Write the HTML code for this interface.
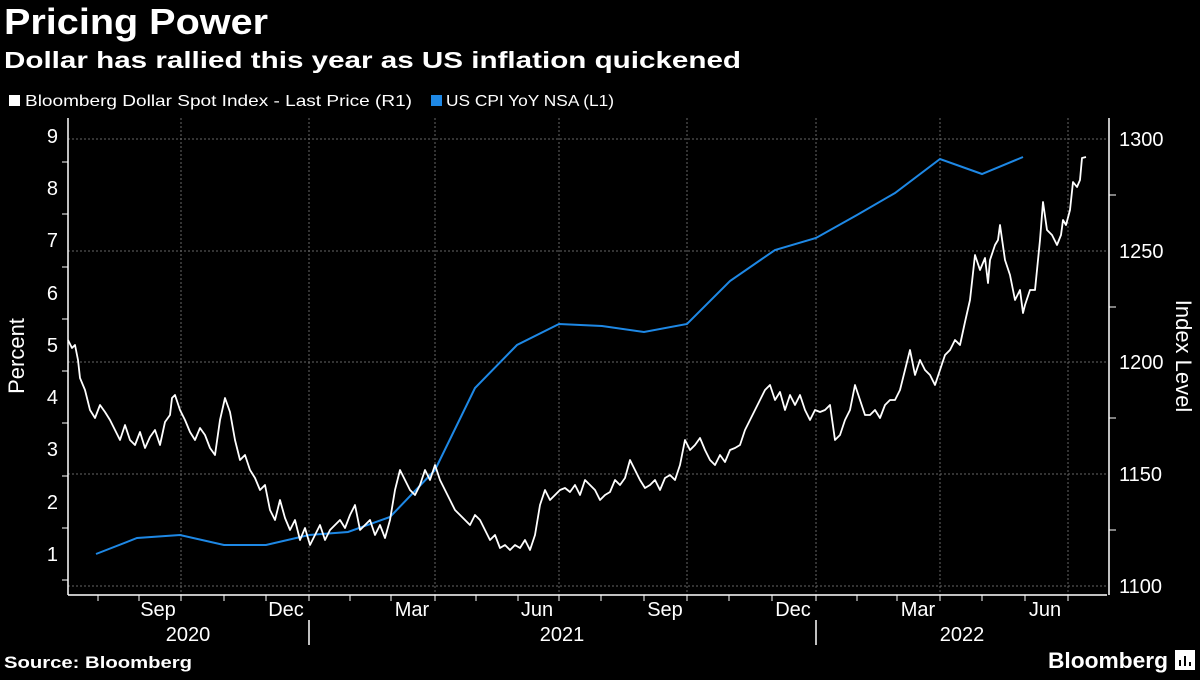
<!DOCTYPE html>
<html><head><meta charset="utf-8"><style>
body{margin:0;background:#000;width:1200px;height:675px;overflow:hidden;font-family:"Liberation Sans",sans-serif}
</style></head><body>
<svg width="1200" height="675" xmlns="http://www.w3.org/2000/svg" font-family="Liberation Sans, DejaVu Sans, sans-serif">
<rect width="1200" height="675" fill="#000"/>
<text x="4" y="34" fill="#fff" font-size="36" font-weight="bold" textLength="264" lengthAdjust="spacingAndGlyphs">Pricing Power</text>
<text x="4" y="68" fill="#fff" font-size="23" font-weight="bold" textLength="737" lengthAdjust="spacingAndGlyphs">Dollar has rallied this year as US inflation quickened</text>
<rect x="9" y="95" width="11" height="11" fill="#fff"/>
<text x="25" y="106" fill="#fff" font-size="16" textLength="387" lengthAdjust="spacingAndGlyphs">Bloomberg Dollar Spot Index - Last Price (R1)</text>
<rect x="431" y="95" width="11" height="11" fill="#1e88e5"/>
<text x="446" y="106" fill="#fff" font-size="16" textLength="168" lengthAdjust="spacingAndGlyphs">US CPI YoY NSA (L1)</text>
<g stroke="#666" stroke-width="1" stroke-dasharray="2,2">
<line x1="68" x2="1107" y1="139" y2="139"/><line x1="68" x2="1107" y1="251" y2="251"/><line x1="68" x2="1107" y1="362" y2="362"/><line x1="68" x2="1107" y1="474" y2="474"/><line x1="68" x2="1107" y1="586" y2="586"/>
<line x1="181" x2="181" y1="118" y2="595"/><line x1="309" x2="309" y1="118" y2="595"/><line x1="435" x2="435" y1="118" y2="595"/><line x1="559" x2="559" y1="118" y2="595"/><line x1="687" x2="687" y1="118" y2="595"/><line x1="816" x2="816" y1="118" y2="595"/><line x1="940" x2="940" y1="118" y2="595"/><line x1="1068" x2="1068" y1="118" y2="595"/>
</g>
<g stroke="#fff" stroke-width="1.5">
<line x1="68" y1="118" x2="68" y2="595"/><line x1="68" y1="595" x2="1107" y2="595"/><line x1="1109" y1="118" x2="1109" y2="595"/>
<line x1="309" y1="620" x2="309" y2="645"/><line x1="816" y1="620" x2="816" y2="645"/>
</g>
<g stroke="#fff" stroke-width="1">
<line x1="98" x2="98" y1="595" y2="601"/><line x1="139" x2="139" y1="595" y2="601"/><line x1="181" x2="181" y1="595" y2="601"/><line x1="224" x2="224" y1="595" y2="601"/><line x1="266" x2="266" y1="595" y2="601"/><line x1="309" x2="309" y1="595" y2="601"/><line x1="350" x2="350" y1="595" y2="601"/><line x1="391" x2="391" y1="595" y2="601"/><line x1="435" x2="435" y1="595" y2="601"/><line x1="476" x2="476" y1="595" y2="601"/><line x1="518" x2="518" y1="595" y2="601"/><line x1="559" x2="559" y1="595" y2="601"/><line x1="601" x2="601" y1="595" y2="601"/><line x1="644" x2="644" y1="595" y2="601"/><line x1="687" x2="687" y1="595" y2="601"/><line x1="729" x2="729" y1="595" y2="601"/><line x1="772" x2="772" y1="595" y2="601"/><line x1="816" x2="816" y1="595" y2="601"/><line x1="857" x2="857" y1="595" y2="601"/><line x1="897" x2="897" y1="595" y2="601"/><line x1="940" x2="940" y1="595" y2="601"/><line x1="982" x2="982" y1="595" y2="601"/><line x1="1025" x2="1025" y1="595" y2="601"/><line x1="1068" x2="1068" y1="595" y2="601"/>
<line x1="62" x2="68" y1="162" y2="162"/><line x1="62" x2="68" y1="214" y2="214"/><line x1="62" x2="68" y1="267" y2="267"/><line x1="62" x2="68" y1="319" y2="319"/><line x1="62" x2="68" y1="371" y2="371"/><line x1="62" x2="68" y1="423" y2="423"/><line x1="62" x2="68" y1="476" y2="476"/><line x1="62" x2="68" y1="528" y2="528"/><line x1="62" x2="68" y1="580" y2="580"/>
<line x1="1109" x2="1116" y1="195" y2="195"/><line x1="1109" x2="1116" y1="307" y2="307"/><line x1="1109" x2="1116" y1="418" y2="418"/><line x1="1109" x2="1116" y1="530" y2="530"/>
</g>
<g fill="#fff" font-size="20" text-anchor="end">
<text x="58" y="143">9</text><text x="58" y="195">8</text><text x="58" y="247">7</text><text x="58" y="300">6</text><text x="58" y="352">5</text><text x="58" y="404">4</text><text x="58" y="456">3</text><text x="58" y="509">2</text><text x="58" y="561">1</text>
</g>
<g fill="#fff" font-size="20">
<text x="1119" y="146">1300</text><text x="1119" y="258">1250</text><text x="1119" y="369">1200</text><text x="1119" y="481">1150</text><text x="1119" y="593">1100</text>
</g>
<g fill="#fff" font-size="20" text-anchor="middle">
<text x="158" y="616">Sep</text><text x="286" y="616">Dec</text><text x="412" y="616">Mar</text><text x="537" y="616">Jun</text><text x="665" y="616">Sep</text><text x="793" y="616">Dec</text><text x="918" y="616">Mar</text><text x="1045" y="616">Jun</text>
<text x="188" y="641">2020</text><text x="562" y="641">2021</text><text x="962" y="641">2022</text>
</g>
<text transform="translate(24,356) rotate(-90)" fill="#fff" font-size="22" text-anchor="middle">Percent</text>
<text transform="translate(1176,356) rotate(90)" fill="#fff" font-size="22" text-anchor="middle">Index Level</text>
<polyline fill="none" stroke="#1e88e5" stroke-width="2" points="96,554 137,538 180,535 224,545 266,545 309,535 348,532 390,517 435,470 475,388 517,345 559,324 602,326 644,332 687,324 730,281 775,250 816,238 857,215 895,193 940,159 982,174 1023,157"/>
<polyline fill="none" stroke="#fff" stroke-width="1.8" stroke-linejoin="round" points="68,340 72,348 75,345 78,360 80,378 85,390 90,410 95,418 100,405 105,412 110,420 115,430 120,440 125,425 130,440 135,445 140,432 145,448 150,437 155,430 160,445 165,422 170,415 172,398 175,395 180,410 185,420 190,432 195,440 200,428 205,435 210,448 215,455 220,420 225,398 230,412 235,440 240,460 245,455 250,470 255,478 260,490 265,485 270,510 275,520 280,500 285,518 290,530 295,520 300,540 305,528 310,545 315,535 320,525 325,540 330,530 335,525 340,520 345,528 350,515 355,505 360,530 365,525 370,520 375,535 380,525 385,538 390,520 395,490 400,470 405,480 410,490 415,495 420,485 425,470 430,480 435,465 440,480 445,490 450,500 455,510 460,515 465,520 470,525 475,515 480,520 485,530 490,540 495,535 500,548 505,545 510,550 515,545 520,548 525,540 530,550 535,535 540,505 545,490 550,500 555,495 560,490 565,488 570,492 575,485 580,495 585,480 590,485 595,490 600,500 605,495 610,492 615,480 620,485 625,478 630,460 635,470 640,480 645,488 650,485 655,480 660,490 665,478 670,475 675,480 680,465 685,440 690,450 695,445 700,438 705,450 710,460 715,465 720,455 725,462 730,450 735,448 740,445 745,430 750,420 755,410 760,400 765,390 770,385 775,400 780,392 785,410 790,395 795,405 800,395 805,410 810,420 815,410 820,412 825,410 830,405 835,440 840,435 845,420 850,410 855,385 860,400 865,415 870,415 875,410 880,418 885,405 890,400 895,400 900,390 905,370 910,350 915,375 920,360 925,370 930,375 935,385 940,370 945,355 950,350 955,340 960,345 965,322 970,300 975,255 980,270 985,258 988,283 990,260 995,245 998,240 1000,225 1005,260 1010,275 1015,300 1020,290 1023,313 1025,305 1030,290 1035,290 1040,240 1043,202 1047,230 1052,235 1057,245 1061,235 1063,220 1066,225 1070,210 1073,182 1077,187 1080,180 1082,158 1086,157"/>
<text x="4" y="668" fill="#fff" font-size="17" font-weight="bold" textLength="188" lengthAdjust="spacingAndGlyphs">Source: Bloomberg</text>
<text x="1048" y="668" fill="#fff" font-size="22" font-weight="bold" textLength="120" lengthAdjust="spacingAndGlyphs">Bloomberg</text>
<rect x="1175" y="650" width="20" height="20" fill="#fff"/>
<g stroke="#000" stroke-width="2"><line x1="1180" y1="666" x2="1180" y2="660"/><line x1="1185" y1="666" x2="1185" y2="656"/><line x1="1190" y1="666" x2="1190" y2="662"/></g>
</svg>
</body></html>
